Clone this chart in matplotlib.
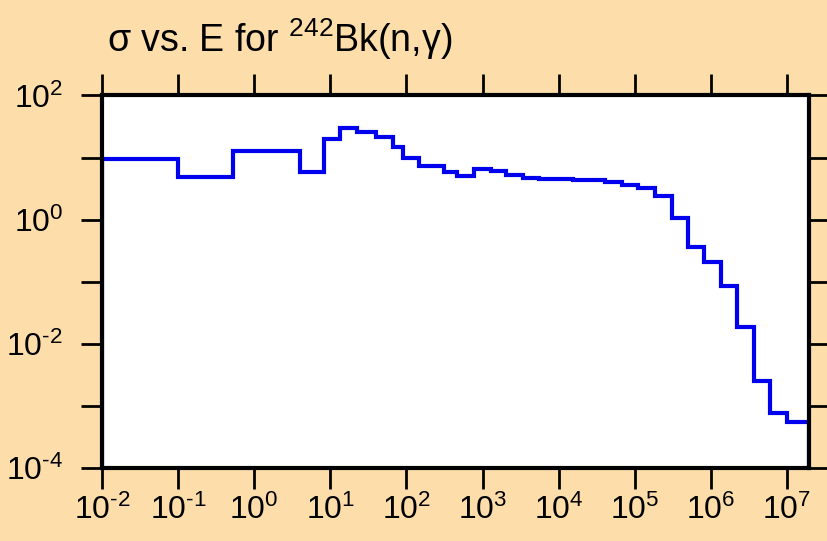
import numpy as np
import matplotlib
matplotlib.use("Agg")
import matplotlib.pyplot as plt
from matplotlib.ticker import LogLocator, NullLocator

plt.rcParams["font.family"] = ["Liberation Sans", "DejaVu Sans"]
plt.rcParams["mathtext.fontset"] = "custom"
plt.rcParams["mathtext.rm"] = "Liberation Sans"
plt.rcParams["mathtext.it"] = "Liberation Sans"
plt.rcParams["axes.unicode_minus"] = False

# bin edges (eV) and cross sections (b)
edges = [0.01, 0.1, 0.53, 4.0, 8.3, 13.5, 22.7, 40, 67, 91, 148, 316, 455,
         762, 1275, 2010, 3360, 5460, 9140, 1.53e4, 2.48e4, 4.03e4, 6.74e4,
         1.09e5, 1.83e5, 3.07e5, 4.98e5, 8.09e5, 1.35e6, 2.2e6, 3.68e6,
         5.97e6, 1.0e7, 1.95e7]
sigma = [9.5, 4.87, 12.8, 5.86, 20, 30, 25.8, 21.5, 14.8, 9.86, 7.3, 5.86,
         5.06, 6.55, 6.08, 5.25, 4.69, 4.52, 4.52, 4.43, 4.28, 4.05, 3.62,
         3.18, 2.41, 1.06, 0.363, 0.208, 0.0855, 0.0187, 0.00253, 7.7e-4,
         5.5e-4]

bg = "#FDDEAB"
fig = plt.figure(figsize=(8.27, 5.41), dpi=100, facecolor=bg)
ax = fig.add_axes([0.1233, 0.135, 0.855, 0.6885])
ax.set_facecolor("white")

ax.stairs(sigma, edges, baseline=1e-6, color="#0000EE", linewidth=3,
          joinstyle="miter")

ax.set_xscale("log")
ax.set_yscale("log")
ax.set_xlim(0.01, 1.95e7)
ax.set_ylim(1e-4, 1e2)

ax.xaxis.set_major_locator(LogLocator(base=10, numticks=20))
ax.xaxis.set_minor_locator(NullLocator())
ax.yaxis.set_major_locator(LogLocator(base=10, subs=(1.0,), numticks=20))
ax.yaxis.set_minor_locator(NullLocator())

def pow10(e):
    s = str(e).replace("-", "\u2010")
    return r"$\mathregular{10^{%s}}$" % s

def xlab(v, pos):
    return pow10(int(round(np.log10(v))))

# label only every other decade on y
def ylab(v, pos):
    e = int(round(np.log10(v)))
    if e % 2:
        return ""
    return pow10(e)

ax.xaxis.set_major_formatter(plt.FuncFormatter(xlab))
ax.yaxis.set_major_formatter(plt.FuncFormatter(ylab))

ax.tick_params(which="major", direction="out", length=15, width=2,
               top=True, right=True, labelsize=23, color="black")
ax.tick_params(axis="x", pad=4)
ax.tick_params(axis="y", pad=13)

for s in ax.spines.values():
    s.set_linewidth(3)

fig.text(0.129, 0.904, r"σ vs. E for $\mathregular{^{242}}$Bk(n,γ)",
         fontsize=27, ha="left", va="baseline")

plt.savefig("out.png", dpi=100, facecolor=bg)
